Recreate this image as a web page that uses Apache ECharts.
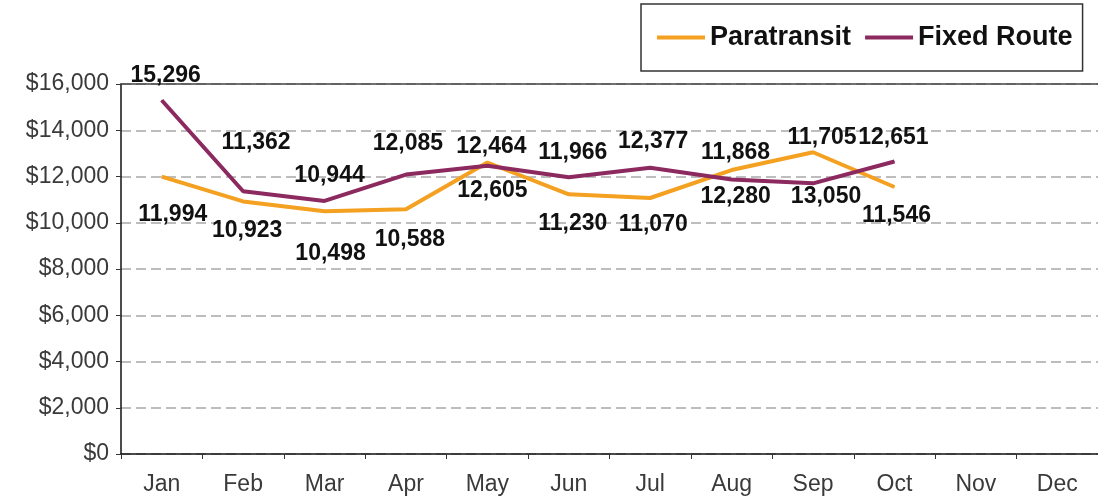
<!DOCTYPE html>
<html>
<head>
<meta charset="utf-8">
<script src="https://cdn.jsdelivr.net/npm/echarts@6/dist/echarts.min.js"></script>
<style>
  html, body { margin: 0; padding: 0; background: #fff; }
  #chart { width: 1098px; height: 499px; }
</style>
</head>
<body>
<div id="chart"></div>
<script>
// months on the x axis
const months = ['Jan', 'Feb', 'Mar', 'Apr', 'May', 'Jun', 'Jul', 'Aug', 'Sep', 'Oct', 'Nov', 'Dec'];

// monthly cost values
const paratransit = [11994, 10923, 10498, 10588, 12605, 11230, 11070, 12280, 13050, 11546];
const fixedRoute = [15296, 11362, 10944, 12085, 12464, 11966, 12377, 11868, 11705, 12651];

// y axis ticks
const yMin = 0;
const yMax = 16000;
const yStep = 2000;

// hand placed label nudges (px from the point), like the original
const paraLabelShift = [[11, 38], [4, 29], [6, 42], [4, 31], [5, 28], [4, 29], [3, 27], [4, 27], [13, 44], [2, 29]];
const fixedLabelShift = [[4, -25], [13, -49], [5, -25], [2, -31], [4, -19], [4, -25], [3, -26], [4, -27], [9, -46], [-1, -24]];

const FONT = 'Arial, "Liberation Sans", sans-serif';

function money(v) {
    return '$' + String(v).replace(/\B(?=(\d{3})+(?!\d))/g, ',');
}
function comma(v) {
    return String(v).replace(/\B(?=(\d{3})+(?!\d))/g, ',');
}

function withLabels(values, shifts) {
    return values.map(function (v, i) {
        return { value: v, label: { offset: shifts[i] } };
    });
}

const labelStyle = {
    show: true,
    position: 'inside',
    fontFamily: FONT,
    fontSize: 23,
    fontWeight: 'bold',
    color: '#111',
    formatter: function (p) { return comma(p.value); }
};

let myChart = echarts.init(document.getElementById('chart'), null, { renderer: 'canvas' });
let option = {
    backgroundColor: '#fff',
    animation: false,
    grid: { left: 121, top: 84, width: 984, height: 370 },
    legend: {
        left: 641,
        top: 4,
        padding: [20, 10, 20, 16],
        borderColor: '#333',
        borderWidth: 1.5,
        itemGap: 14,
        icon: 'rect',
        itemWidth: 48,
        itemHeight: 4,
        textStyle: { fontFamily: FONT, fontSize: 27, fontWeight: 'bold', color: '#111' },
        data: ['Paratransit', 'Fixed Route']
    },
    xAxis: [{
        type: 'category',
        data: months,
        boundaryGap: true,
        axisLine: { lineStyle: { color: '#111', width: 1.5 } },
        axisTick: { show: true, length: 5, lineStyle: { color: '#333' } },
        axisLabel: { fontFamily: FONT, fontSize: 23, color: '#3a3a3a', margin: 19 },
        splitLine: { show: false }
    }, {
        // closes the plot at the top
        type: 'category',
        position: 'top',
        data: months,
        axisLine: { lineStyle: { color: '#444', width: 1.5 } },
        axisTick: { show: false },
        axisLabel: { show: false }
    }],
    yAxis: {
        type: 'value',
        min: yMin,
        max: yMax,
        interval: yStep,
        axisLine: { show: true, lineStyle: { color: '#111', width: 1.5 } },
        axisTick: { show: true, length: 5, lineStyle: { color: '#333' } },
        axisLabel: { fontFamily: FONT, fontSize: 23, color: '#3a3a3a', margin: 12, formatter: money },
        splitLine: { lineStyle: { color: '#a8a8a8', width: 1.5, type: [10, 5] } }
    },
    series: [{
        name: 'Paratransit',
        type: 'line',
        data: withLabels(paratransit, paraLabelShift),
        symbol: 'circle',
        symbolSize: 1,
        color: '#f4a020',
        lineStyle: { width: 4, color: '#f4a020' },
        label: labelStyle,
        z: 3
    }, {
        name: 'Fixed Route',
        type: 'line',
        data: withLabels(fixedRoute, fixedLabelShift),
        symbol: 'circle',
        symbolSize: 1,
        color: '#8c2a60',
        lineStyle: { width: 4, color: '#8c2a60' },
        label: labelStyle,
        z: 4
    }]
};
myChart.setOption(option, true);
</script>
</body>
</html>
